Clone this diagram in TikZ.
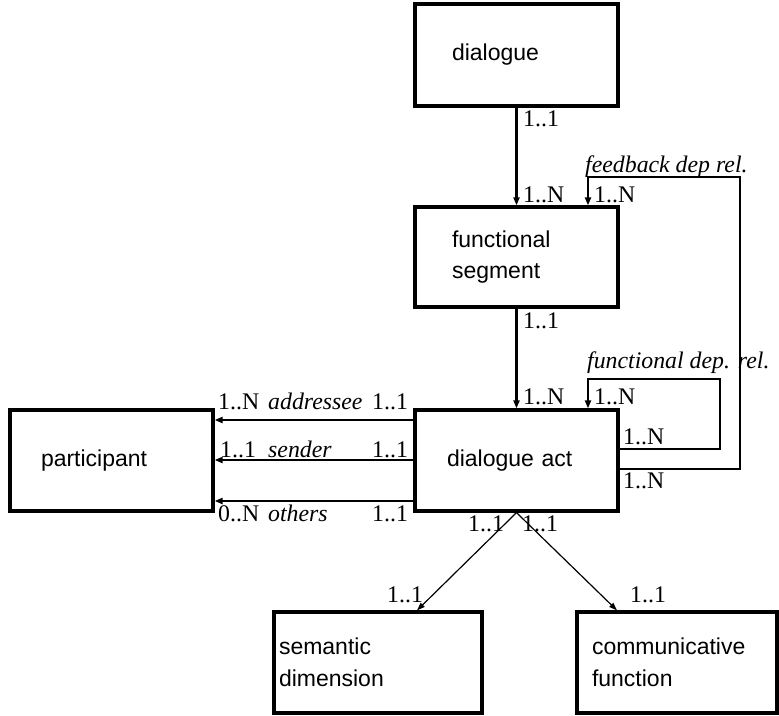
\documentclass[tikz,border=0pt]{standalone}
\usepackage{fontspec}
\setmainfont{Liberation Serif}
\newfontfamily\boxfont{Liberation Sans}
\usetikzlibrary{arrows.meta}
\begin{document}
\begin{tikzpicture}[x=1pt,y=-1pt,
  entity/.style={draw,line width=3.2pt,rectangle,align=left,inner ysep=2pt,
    font=\boxfont\fontsize{23}{31.5}\selectfont},
  conn/.style={line width=2.2pt,-{Triangle[length=8pt,width=6pt]}},
  thinconn/.style={line width=1.2pt,-{Triangle[length=8pt,width=5.5pt]}},
  card/.style={anchor=base west,inner sep=0pt,font=\fontsize{23.8}{28}\selectfont},
  rel/.style={anchor=base west,inner sep=0pt,font=\itshape\fontsize{23.8}{28}\selectfont}]
\useasboundingbox (0,0) rectangle (779,715);

% boxes
\node[entity,minimum width=203pt,minimum height=102pt,text width=129pt,inner xsep=37pt] (dlg) at (516.5,55) {dialogue};
\node[entity,minimum width=203pt,minimum height=100pt,text width=129pt,inner xsep=37pt] (fs) at (516.5,257) {functional\\segment};
\node[entity,minimum width=203pt,minimum height=101pt,text width=139pt,inner xsep=32pt] (da) at (516.5,460.5) {dialogue act};
\node[entity,minimum width=203pt,minimum height=101pt,text width=141pt,inner xsep=31pt] (part) at (111.5,460.5) {participant};
\node[entity,minimum width=208pt,minimum height=101pt,text width=198pt,inner xsep=5pt] (sem) at (378,662.5) {semantic\\dimension};
\node[entity,minimum width=200pt,minimum height=101pt,text width=170pt,inner xsep=15pt] (com) at (677,662.5) {communicative\\function};

% vertical connectors
\draw[conn] (dlg.south) -- (fs.north);
\draw[conn] (fs.south) -- (da.north);

% feedback dependence loop
\coordinate (fbR) at (740,177);
\coordinate (fbL) at (588,177);
\draw[conn] ([yshift=-8.5pt]da.east) -| (fbR) -- (fbL) -- (fbL |- fs.north);

% functional dependence loop
\coordinate (fdR) at (720,379);
\coordinate (fdL) at (588,379);
\draw[conn] ([yshift=11.5pt]da.east) -| (fdR) -- (fdL) -- (fdL |- da.north);

% participant relations
\draw[conn] ([yshift=40.5pt]da.west) -- ([yshift=40.5pt]part.east);
\draw[conn] ([yshift=0.5pt]da.west) -- ([yshift=0.5pt]part.east);
\draw[conn] ([yshift=-40.5pt]da.west) -- ([yshift=-40.5pt]part.east);

% diagonal connectors
\draw[thinconn] (da.south) -- ([xshift=39pt]sem.north);
\draw[thinconn] (da.south) -- ([xshift=-60pt]com.north);

% labels
\node[card] (l1) at (523,126) {1..1};
\node[card] (l2) at (523,202) {1..N};
\node[rel]  (l3) at (585,172.5) {feedback dep rel.};
\node[card] (l4) at (594,202) {1..N};
\node[card] (l5) at (523,328) {1..1};
\node[card] (l6) at (523,404) {1..N};
\node[rel]  (l7) at (587,368) {functional dep. rel.};
\node[card] (l8) at (594,404) {1..N};
\node[card] (l9) at (623,444) {1..N};
\node[card] (l10) at (623,488) {1..N};

\node[card] (a1) at (218,409) {1..N};
\node[rel]  (a2) at (268,409) {addressee};
\node[card] (a3) at (372,409) {1..1};
\node[card] (s1) at (220,457) {1..1};
\node[rel]  (s2) at (268,457) {sender};
\node[card] (s3) at (372,457) {1..1};
\node[card] (o1) at (218,521) {0..N};
\node[rel]  (o2) at (268,521) {others};
\node[card] (o3) at (372,521) {1..1};

\node[card] (d1) at (468,531) {1..1};
\node[card] (d2) at (522,531) {1..1};
\node[card] (d3) at (387,602) {1..1};
\node[card] (d4) at (630,602) {1..1};
\end{tikzpicture}
\end{document}
